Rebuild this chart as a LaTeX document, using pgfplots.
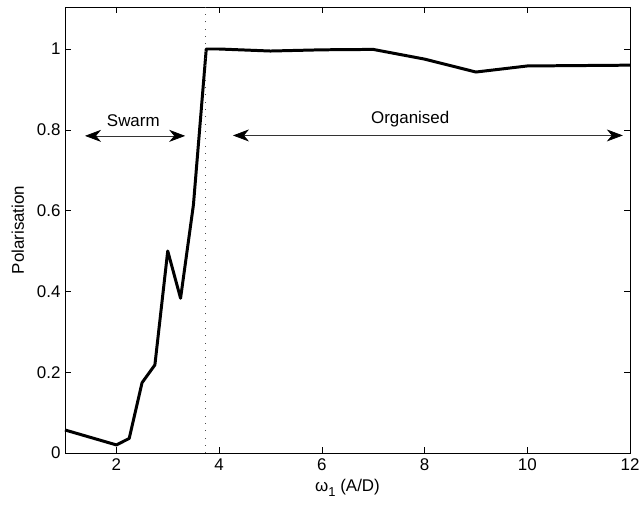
\documentclass[border=0pt]{standalone}
\usepackage{pgfplots}
\pgfplotsset{compat=1.18}
\usepackage{fontspec}
\setmainfont{Liberation Sans}
\usetikzlibrary{arrows.meta}
\newcommand{\lblfont}{\fontsize{17}{20}\selectfont}
\begin{document}
\begin{tikzpicture}[x=1bp,y=1bp]
\path[use as bounding box] (-65,-56) rectangle (575,453);
\begin{axis}[
  at={(0,0)}, anchor=south west,
  scale only axis,
  width=565bp, height=446bp,
  xmin=1, xmax=12, ymin=0, ymax=1.104,
  xtick={2,4,6,8,10,12},
  ytick={0,0.2,0.4,0.6,0.8,1},
  yticklabels={0,0.2,0.4,0.6,0.8,1},
  tick align=inside,
  major tick length=6bp,
  axis line style={line width=0.8pt},
  tick style={line width=0.6pt, black},
  /pgf/number format/assume math mode=true,
  tick label style={font=\lblfont},
  xticklabel style={yshift=-2bp},
  yticklabel style={xshift=-1bp},
  label style={font=\lblfont},
  xlabel={ω{\raisebox{-5bp}{\fontsize{13}{14}\selectfont 1}} (A/D)},
  ylabel={Polarisation},
  xlabel style={yshift=-2bp},
  ylabel style={yshift=6bp},
  clip=false,
]
% polarisation against omega_1
\addplot[black, line width=3pt, line join=round] coordinates {
  (1,0.057) (2,0.020) (2.25,0.036) (2.5,0.174) (2.75,0.218)
  (3,0.500) (3.25,0.383) (3.5,0.614) (3.75,1.000) (4,1.000)
  (5,0.995) (6,0.998) (7,0.999) (8,0.975) (9,0.943)
  (10,0.958) (11,0.959) (12,0.960)
};
% transition threshold
\addplot[black!70, line width=0.6pt, dash pattern=on 0.8bp off 6.5bp] coordinates {(3.73,0) (3.73,1.104)};
% regime annotations
\addplot[black!80, line width=0.7pt, {Stealth[length=16bp,width=12bp,inset=5bp,black]}-{Stealth[length=16bp,width=12bp,inset=5bp,black]}] coordinates {(1.39,0.785) (3.34,0.785)};
\addplot[black!80, line width=0.7pt, {Stealth[length=16bp,width=12bp,inset=5bp,black]}-{Stealth[length=16bp,width=12bp,inset=5bp,black]}] coordinates {(4.27,0.786) (11.86,0.786)};
\node[font=\lblfont] at (axis cs:2.33,0.823) {Swarm};
\node[font=\lblfont] at (axis cs:7.72,0.827) {Organised};
\end{axis}
\end{tikzpicture}
\end{document}
